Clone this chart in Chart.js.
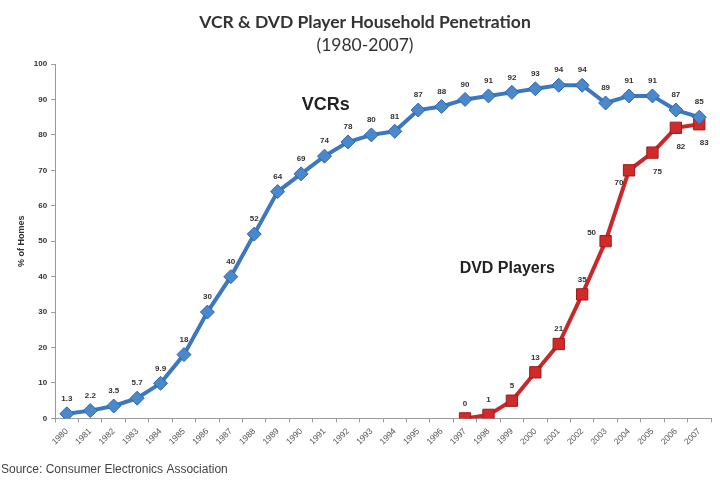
<!DOCTYPE html>
<html>
<head>
<meta charset="utf-8">
<script src="https://cdn.jsdelivr.net/npm/chart.js@4.4.1/dist/chart.umd.min.js"></script>
<style>
  html, body { margin: 0; padding: 0; background: #fff; }
  #wrap { width: 720px; height: 489px; position: relative; }
</style>
</head>
<body>
<div id="wrap"><canvas id="graphic"></canvas></div>
<script>
// data
const years = ['1980', '1981', '1982', '1983', '1984', '1985', '1986', '1987', '1988', '1989',
  '1990', '1991', '1992', '1993', '1994', '1995', '1996', '1997', '1998', '1999',
  '2000', '2001', '2002', '2003', '2004', '2005', '2006', '2007'];
const vcrs = [1.3, 2.2, 3.5, 5.7, 9.9, 18, 30, 40, 52, 64, 69, 74, 78, 80, 81, 87, 88, 90,
  91, 92, 93, 94, 94, 89, 91, 91, 87, 85];
const dvdPlayers = [null, null, null, null, null, null, null, null, null, null, null, null,
  null, null, null, null, null, 0, 1, 5, 13, 21, 35, 50, 70, 75, 82, 83];
const yTicks = [0, 10, 20, 30, 40, 50, 60, 70, 80, 90, 100];

const blue = '#3d78be';
const red = '#c8282a';

// value labels next to each point
const valueLabels = {
  id: 'valueLabels',
  afterDatasetsDraw(chart) {
    const ctx = chart.ctx;
    ctx.save();
    ctx.font = 'bold 8px "Liberation Sans", Arial, sans-serif';
    ctx.fillStyle = '#333';
    ctx.textAlign = 'center';
    ctx.textBaseline = 'middle';
    chart.data.datasets.forEach((ds, di) => {
      const meta = chart.getDatasetMeta(di);
      meta.data.forEach((pt, i) => {
        const v = ds.data[i];
        if (v === null || v === undefined) return;
        let dx = 0, dy = -15;
        if (di === 1) {
          if (v >= 70) { dx = v === 70 ? -10 : 5; dy = v === 70 ? 12 : 19; }
          else if (v === 50) { dx = -14; dy = -8; }
          else { dy = -15; }
        }
        ctx.fillText(String(v), pt.x + dx, pt.y + dy);
      });
    });
    ctx.restore();
  }
};

// series names and source line
const notes = {
  id: 'notes',
  afterDraw(chart) {
    const ctx = chart.ctx;
    const x = chart.scales.x, y = chart.scales.y;
    const step = x.getPixelForValue(1) - x.getPixelForValue(0);
    ctx.save();
    ctx.fillStyle = '#222';
    ctx.textAlign = 'center';
    ctx.textBaseline = 'middle';
    ctx.font = 'bold 18px "Liberation Sans", Arial, sans-serif';
    ctx.fillText('VCRs', x.getPixelForValue(11) + step * 0.05, y.getPixelForValue(88.5));
    ctx.font = 'bold 16px "Liberation Sans", Arial, sans-serif';
    ctx.fillText('DVD Players', x.getPixelForValue(18) + step * 0.8, y.getPixelForValue(42.3));
    ctx.textAlign = 'left';
    ctx.font = '12px "Liberation Sans", Arial, sans-serif';
    ctx.fillStyle = '#444';
    ctx.fillText('Source: Consumer Electronics Association', 1, 470);
    ctx.restore();
  }
};

const graphic = document.getElementById('graphic');
const graphicControler = new Chart(graphic, {
  type: 'line',
  data: {
    labels: years,
    datasets: [
      {
        label: 'VCRs',
        data: vcrs,
        borderColor: blue,
        backgroundColor: '#4a88cc',
        borderWidth: 4,
        pointStyle: 'rectRot',
        pointRadius: 7,
        pointBorderWidth: 1,
        pointBorderColor: '#2f66a8',
        lineTension: 0,
        fill: false,
      },
      {
        label: 'DVD Players',
        data: dvdPlayers,
        borderColor: red,
        backgroundColor: '#d02a2a',
        borderWidth: 4,
        pointStyle: 'rect',
        pointRadius: 8,
        pointBorderWidth: 1,
        pointBorderColor: '#9e1c1c',
        lineTension: 0,
        fill: false,
        spanGaps: false,
      },
    ],
  },
  options: {
    responsive: true,
    maintainAspectRatio: false,
    animation: false,
    layout: { padding: { left: 16, right: 6, top: 0, bottom: 38 } },
    plugins: {
      legend: { display: false },
      tooltip: { enabled: false },
      title: {
        display: true,
        text: 'VCR & DVD Player Household Penetration',
        color: '#333',
        font: { family: 'Lato, "Open Sans", sans-serif', size: 17.5, weight: 'bold' },
        padding: { top: 12, bottom: 2 },
      },
      subtitle: {
        display: true,
        text: '(1980-2007)',
        color: '#333',
        font: { family: 'Lato, "Open Sans", sans-serif', size: 17.5 },
        padding: { top: 0, bottom: 8 },
      },
    },
    scales: {
      x: {
        type: 'category',
        offset: true,
        grid: { display: true, drawOnChartArea: false, tickLength: 4, color: '#999', offset: true },
        border: { color: '#999' },
        ticks: {
          autoSkip: false,
          minRotation: 45,
          maxRotation: 45,
          padding: 4,
          color: '#555',
          font: { family: '"Liberation Sans", Arial, sans-serif', size: 8.5 },
        },
      },
      y: {
        min: 0,
        max: 100,
        afterBuildTicks(axis) { axis.ticks = yTicks.map(v => ({ value: v })); },
        grid: { display: true, drawOnChartArea: false, tickLength: 4, color: '#999' },
        border: { color: '#999' },
        ticks: {
          color: '#333',
          padding: 4,
          font: { family: '"Liberation Sans", Arial, sans-serif', size: 8, weight: 'bold' },
        },
        title: {
          display: true,
          text: '% of Homes',
          color: '#333',
          padding: { top: 0, bottom: 3 },
          font: { family: '"Liberation Sans", Arial, sans-serif', size: 9, weight: 'bold' },
        },
      },
    },
  },
  plugins: [valueLabels, notes],
});
</script>
</body>
</html>
